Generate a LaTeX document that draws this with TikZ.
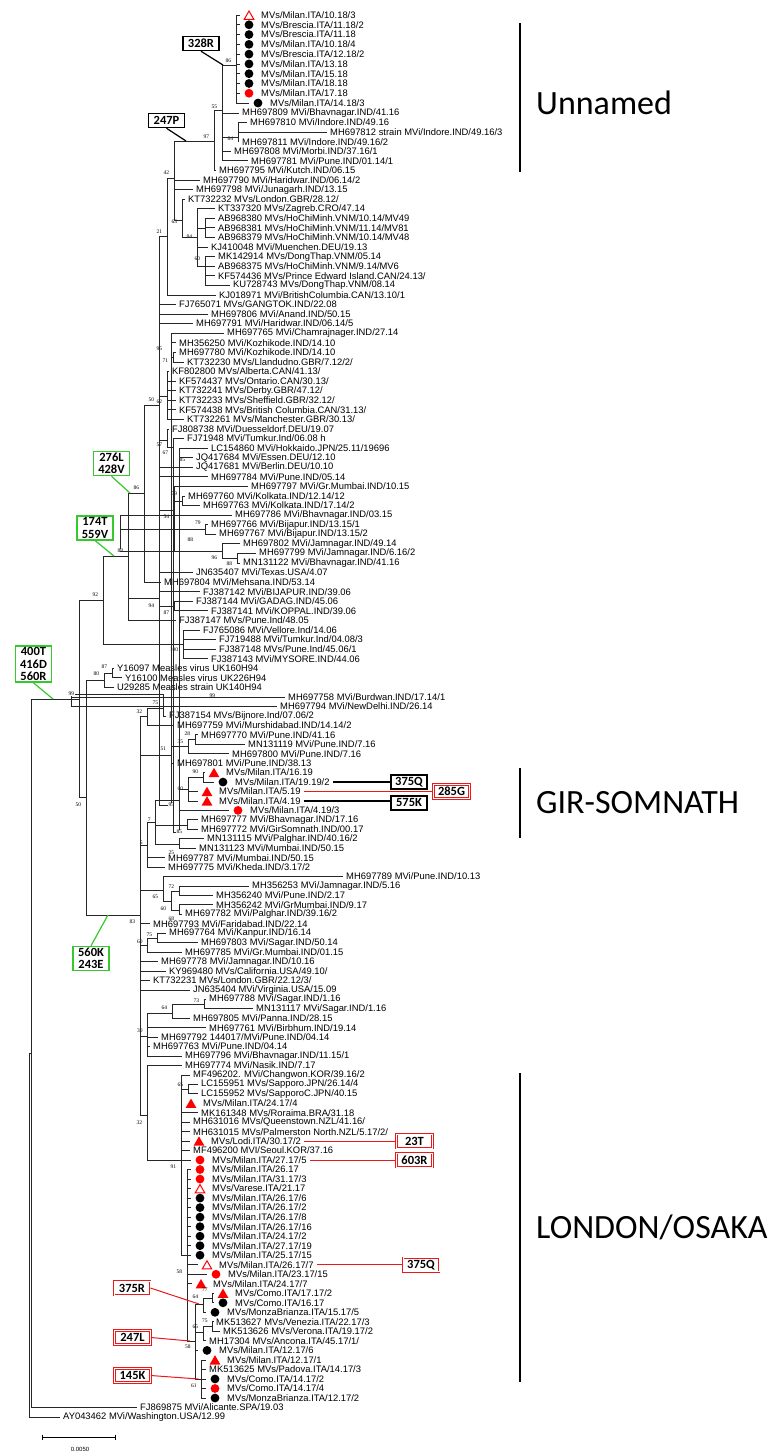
\documentclass[tikz,border=0pt]{standalone}
\usepackage{fontspec}
\setmainfont{Liberation Sans}
\newfontfamily\bsfont{Liberation Serif}
\newfontfamily\boxfont{Carlito}
\usetikzlibrary{shapes.geometric}

\definecolor{mutred}{RGB}{235,25,25}
\definecolor{mutgreen}{RGB}{55,200,45}

\tikzset{
  branch/.style={line width=0.8pt, black!85},
  leaf/.style={anchor=west, inner xsep=3pt, inner ysep=0pt, font=\fontsize{9.4}{10}\selectfont},
  bs/.style={anchor=east, inner sep=0.3pt, font=\bsfont\fontsize{5.5}{5.5}\selectfont},
  dot/.style={circle, fill=black, inner sep=0pt, minimum size=8.8pt},
  reddot/.style={dot, fill=red},
  redtri/.style={regular polygon, regular polygon sides=3, fill=red, inner sep=0pt, minimum size=12.5pt, yshift=-1.5pt},
  opentri/.style={redtri, fill=white, draw=red, line width=1pt, minimum size=11pt},
  mutbox/.style={draw, line width=1.5pt, inner sep=1.5pt, minimum width=36pt, minimum height=14pt, font=\boxfont\bfseries\fontsize{12.5}{12.5}\selectfont},
  redbox/.style={mutbox, draw=mutred, double=white, double distance=0.6pt, line width=0.8pt},
  greenbox/.style={mutbox, draw=mutgreen, line width=1.4pt, align=center},
  tag/.style={line width=1.2pt},
  redtag/.style={line width=1pt, mutred},
  greentag/.style={line width=1.2pt, mutgreen},
  cladebar/.style={line width=1.8pt},
  clade/.style={anchor=base west, inner sep=0pt, font=\boxfont\fontsize{34}{34}\selectfont},
}

% tip of a leaf and its text
\newcommand\leafnode[4]{%
  \coordinate (#1) at (#3,{ry(#2)});
  \node[leaf] (#1t) at (#1) {#4};}
% same, with a symbol before the text
\newcommand\symnode[5]{%
  \coordinate (#1) at (#3,{ry(#2)});
  \node[#4] (#1s) at ([xshift=9pt]#1) {};
  \node[leaf] (#1t) at ([xshift=18pt]#1) {#5};}
% inner node, its bootstrap value and where that value sits
\newcommand\innode[5]{%
  \coordinate (#1) at (#2,#3);
  \node[bs] (#1b) at (#2-4.5,#5) {#4};}
\newcommand\children[2]{\foreach \c in {#2} {\draw[branch] (#1) |- (\c);}}

\begin{document}
\begin{tikzpicture}[x=1pt,y=-1pt,
  declare function={ry(\r)=(\r<=10) ? 15+(\r-1)*9.78 : ((\r<=72) ? 113+(\r-11)*9.574 : ((\r<=121) ? 697+(\r-72)*9.449 : 1160+(\r-121)*9.52));}]
\useasboundingbox[fill=white] (0,0) rectangle (768,1452);

% Milan 2018
\symnode{l1}{1}{240}{opentri}{MVs/Milan.ITA/10.18/3}
\symnode{l2}{2}{240}{dot}{MVs/Brescia.ITA/11.18/2}
\symnode{l3}{3}{240}{dot}{MVs/Brescia.ITA/11.18}
\symnode{l4}{4}{240}{dot}{MVs/Milan.ITA/10.18/4}
\symnode{l5}{5}{240}{dot}{MVs/Brescia.ITA/12.18/2}
\symnode{l6}{6}{240}{dot}{MVs/Milan.ITA/13.18}
\symnode{l7}{7}{240}{dot}{MVs/Milan.ITA/15.18}
\symnode{l8}{8}{240}{dot}{MVs/Milan.ITA/18.18}
\symnode{l9}{9}{240}{reddot}{MVs/Milan.ITA/17.18}
\symnode{l10}{10}{249}{dot}{MVs/Milan.ITA/14.18/3}
\leafnode{l11}{11}{239}{MH697809 MVi/Bhavnagar.IND/41.16}
\leafnode{l12}{12}{247}{MH697810 MVi/Indore.IND/49.16}
\leafnode{l13}{13}{327}{MH697812 strain MVi/Indore.IND/49.16/3}
\leafnode{l14}{14}{239}{MH697811 MVi/Indore.IND/49.16/2}
\leafnode{l15}{15}{231}{MH697808 MVi/Morbi.IND/37.16/1}
\leafnode{l16}{16}{248}{MH697781 MVi/Pune.IND/01.14/1}
\leafnode{l17}{17}{216}{MH697795 MVi/Kutch.IND/06.15}
\leafnode{l18}{18}{200}{MH697790 MVi/Haridwar.IND/06.14/2}
\leafnode{l19}{19}{193}{MH697798 MVi/Junagarh.IND/13.15}
\leafnode{l20}{20}{185}{KT732232 MVs/London.GBR/28.12/}
\leafnode{l21}{21}{215}{KT337320 MVs/Zagreb.CRO/47.14}
\leafnode{l22}{22}{215}{AB968380 MVs/HoChiMinh.VNM/10.14/MV49}
\leafnode{l23}{23}{215}{AB968381 MVs/HoChiMinh.VNM/11.14/MV81}
\leafnode{l24}{24}{215}{AB968379 MVs/HoChiMinh.VNM/10.14/MV48}
\leafnode{l25}{25}{208}{KJ410048 MVi/Muenchen.DEU/19.13}
\leafnode{l26}{26}{215}{MK142914 MVs/DongThap.VNM/05.14}
\leafnode{l27}{27}{215}{AB968375 MVs/HoChiMinh.VNM/9.14/MV6}
\leafnode{l28}{28}{215}{KF574436 MVs/Prince Edward Island.CAN/24.13/}
\leafnode{l29}{29}{230}{KU728743 MVs/DongThap.VNM/08.14}
\leafnode{l30}{30}{216}{KJ018971 MVi/BritishColumbia.CAN/13.10/1}
\leafnode{l31}{31}{176}{FJ765071 MVs/GANGTOK.IND/22.08}
\leafnode{l32}{32}{208}{MH697806 MVi/Anand.IND/50.15}
\leafnode{l33}{33}{193}{MH697791 MVi/Haridwar.IND/06.14/5}
\leafnode{l34}{34}{224}{MH697765 MVi/Chamrajnager.IND/27.14}
\leafnode{l35}{35}{176}{MH356250 MVi/Kozhikode.IND/14.10}
\leafnode{l36}{36}{176}{MH697780 MVi/Kozhikode.IND/14.10}
\leafnode{l37}{37}{184}{KT732230 MVs/Llandudno.GBR/7.12/2/}
\leafnode{l38}{38}{169}{KF802800 MVs/Alberta.CAN/41.13/}
\leafnode{l39}{39}{176}{KF574437 MVs/Ontario.CAN/30.13/}
\leafnode{l40}{40}{176}{KT732241 MVs/Derby.GBR/47.12/}
\leafnode{l41}{41}{176}{KT732233 MVs/Sheffield.GBR/32.12/}
\leafnode{l42}{42}{176}{KF574438 MVs/British Columbia.CAN/31.13/}
\leafnode{l43}{43}{184}{KT732261 MVs/Manchester.GBR/30.13/}
\leafnode{l44}{44}{169}{FJ808738 MVi/Duesseldorf.DEU/19.07}
\leafnode{l45}{45}{184}{FJ71948 MVi/Tumkur.Ind/06.08 h}
\leafnode{l46}{46}{208}{LC154860 MVi/Hokkaido.JPN/25.11/19696}
\leafnode{l47}{47}{193}{JQ417684 MVi/Essen.DEU/12.10}
\leafnode{l48}{48}{193}{JQ417681 MVi/Berlin.DEU/10.10}
\leafnode{l49}{49}{208}{MH697784 MVi/Pune.IND/05.14}
\leafnode{l50}{50}{248}{MH697797 MVi/Gr.Mumbai.IND/10.15}
\leafnode{l51}{51}{185}{MH697760 MVi/Kolkata.IND/12.14/12}
\leafnode{l52}{52}{200}{MH697763 MVi/Kolkata.IND/17.14/2}
\leafnode{l53}{53}{232}{MH697786 MVi/Bhavnagar.IND/03.15}
\leafnode{l54}{54}{208}{MH697766 MVi/Bijapur.IND/13.15/1}
\leafnode{l55}{55}{216}{MH697767 MVi/Bijapur.IND/13.15/2}
\leafnode{l56}{56}{240}{MH697802 MVi/Jamnagar.IND/49.14}
\leafnode{l57}{57}{256}{MH697799 MVi/Jamnagar.IND/6.16/2}
\leafnode{l58}{58}{240}{MN131122 MVi/Bhavnagar.IND/41.16}
\leafnode{l59}{59}{193}{JN635407 MVi/Texas.USA/4.07}
\leafnode{l60}{60}{161}{MH697804 MVi/Mehsana.IND/53.14}
\leafnode{l61}{61}{200}{FJ387142 MVi/BIJAPUR.IND/39.06}
\leafnode{l62}{62}{193}{FJ387144 MVi/GADAG.IND/45.06}
\leafnode{l63}{63}{208}{FJ387141 MVi/KOPPAL.IND/39.06}
\leafnode{l64}{64}{176}{FJ387147 MVs/Pune.Ind/48.05}
\leafnode{l65}{65}{200}{FJ765086 MVi/Vellore.Ind/14.06}
\leafnode{l66}{66}{216}{FJ719488 MVi/Tumkur.Ind/04.08/3}
\leafnode{l67}{67}{216}{FJ387148 MVs/Pune.Ind/45.06/1}
\leafnode{l68}{68}{208}{FJ387143 MVi/MYSORE.IND/44.06}
\leafnode{l69}{69}{114}{Y16097 Measles virus UK160H94}
\leafnode{l70}{70}{122}{Y16100 Measles virus UK226H94}
\leafnode{l71}{71}{114}{U29285 Measles strain UK140H94}
\leafnode{l72}{72}{285}{MH697758 MVi/Burdwan.IND/17.14/1}
\leafnode{l73}{73}{277}{MH697794 MVi/NewDelhi.IND/26.14}
\leafnode{l74}{74}{166}{FJ387154 MVs/Bijnore.Ind/07.06/2}
\leafnode{l75}{75}{174}{MH697759 MVi/Murshidabad.IND/14.14/2}
\leafnode{l76}{76}{198}{MH697770 MVi/Pune.IND/41.16}
\leafnode{l77}{77}{245}{MN131119 MVi/Pune.IND/7.16}
\leafnode{l78}{78}{229}{MH697800 MVi/Pune.IND/7.16}
\leafnode{l79}{79}{174}{MH697801 MVi/Pune.IND/38.13}
% Gir-Somnath
\symnode{l80}{80}{205}{redtri}{MVs/Milan.ITA/16.19}
\symnode{l81}{81}{214}{dot}{MVs/Milan.ITA/19.19/2}
\symnode{l82}{82}{198}{redtri}{MVs/Milan.ITA/5.19}
\symnode{l83}{83}{198}{redtri}{MVs/Milan.ITA/4.19}
\symnode{l84}{84}{229}{reddot}{MVs/Milan.ITA/4.19/3}
\leafnode{l85}{85}{198}{MH697777 MVi/Bhavnagar.IND/17.16}
\leafnode{l86}{86}{198}{MH697772 MVi/GirSomnath.IND/00.17}
\leafnode{l87}{87}{204}{MN131115 MVi/Palghar.IND/40.16/2}
\leafnode{l88}{88}{196}{MN131123 MVi/Mumbai.IND/50.15}
\leafnode{l89}{89}{165}{MH697787 MVi/Mumbai.IND/50.15}
\leafnode{l90}{90}{165}{MH697775 MVi/Kheda.IND/3.17/2}
\leafnode{l91}{91}{343}{MH697789 MVi/Pune.IND/10.13}
\leafnode{l92}{92}{249}{MH356253 MVi/Jamnagar.IND/5.16}
\leafnode{l93}{93}{213}{MH356240 MVi/Pune.IND/2.17}
\leafnode{l94}{94}{213}{MH356242 MVi/GrMumbai.IND/9.17}
\leafnode{l95}{95}{182}{MH697782 MVi/Palghar.IND/39.16/2}
\leafnode{l96}{96}{150}{MH697793 MVi/Faridabad.IND/22.14}
\leafnode{l97}{97}{166}{MH697764 MVi/Kanpur.IND/16.14}
\leafnode{l98}{98}{198}{MH697803 MVi/Sagar.IND/50.14}
\leafnode{l99}{99}{182}{MH697785 MVi/Gr.Mumbai.IND/01.15}
\leafnode{l100}{100}{158}{MH697778 MVi/Jamnagar.IND/10.16}
\leafnode{l101}{101}{166}{KY969480 MVs/California.USA/49.10/}
\leafnode{l102}{102}{150}{KT732231 MVs/London.GBR/22.12/3/}
\leafnode{l103}{103}{190}{JN635404 MVi/Virginia.USA/15.09}
\leafnode{l104}{104}{206}{MH697788 MVi/Sagar.IND/1.16}
\leafnode{l105}{105}{253}{MN131117 MVi/Sagar.IND/1.16}
\leafnode{l106}{106}{190}{MH697805 MVi/Panna.IND/28.15}
\leafnode{l107}{107}{206}{MH697761 MVi/Birbhum.IND/19.14}
\leafnode{l108}{108}{158}{MH697792 144017/MVi/Pune.IND/04.14}
\leafnode{l109}{109}{150}{MH697763 MVi/Pune.IND/04.14}
\leafnode{l110}{110}{182}{MH697796 MVi/Bhavnagar.IND/11.15/1}
\leafnode{l111}{111}{182}{MH697774 MVi/Nasik.IND/7.17}
% London/Osaka
\leafnode{l112}{112}{190}{MF496202. MVi/Changwon.KOR/39.16/2}
\leafnode{l113}{113}{198}{LC155951 MVs/Sapporo.JPN/26.14/4}
\leafnode{l114}{114}{198}{LC155952 MVs/SapporoC.JPN/40.15}
\symnode{l115}{115}{182}{redtri}{MVs/Milan.ITA/24.17/4}
\leafnode{l116}{116}{198}{MK161348 MVs/Roraima.BRA/31.18}
\leafnode{l117}{117}{190}{MH631016 MVs/Queenstown.NZL/41.16/}
\leafnode{l118}{118}{190}{MH631015 MVs/Palmerston North.NZL/5.17/2/}
\symnode{l119}{119}{190}{redtri}{MVs/Lodi.ITA/30.17/2}
\leafnode{l120}{120}{190}{MF496200 MVI/Seoul.KOR/37.16}
\symnode{l121}{121}{191}{reddot}{MVs/Milan.ITA/27.17/5}
\symnode{l122}{122}{191}{reddot}{MVs/Milan.ITA/26.17}
\symnode{l123}{123}{191}{reddot}{MVs/Milan.ITA/31.17/3}
\symnode{l124}{124}{191}{opentri}{MVs/Varese.ITA/21.17}
\symnode{l125}{125}{191}{dot}{MVs/Milan.ITA/26.17/6}
\symnode{l126}{126}{191}{dot}{MVs/Milan.ITA/26.17/2}
\symnode{l127}{127}{191}{dot}{MVs/Milan.ITA/26.17/8}
\symnode{l128}{128}{191}{dot}{MVs/Milan.ITA/26.17/16}
\symnode{l129}{129}{191}{dot}{MVs/Milan.ITA/24.17/2}
\symnode{l130}{130}{191}{dot}{MVs/Milan.ITA/27.17/19}
\symnode{l131}{131}{191}{dot}{MVs/Milan.ITA/25.17/15}
\symnode{l132}{132}{198}{opentri}{MVs/Milan.ITA/26.17/7}
\symnode{l133}{133}{207}{reddot}{MVs/Milan.ITA/23.17/15}
\symnode{l134}{134}{192}{redtri}{MVs/Milan.ITA/24.17/7}
\symnode{l135}{135}{214}{redtri}{MVs/Como.ITA/17.17/2}
\symnode{l136}{136}{214}{dot}{MVs/Como.ITA/16.17}
\symnode{l137}{137}{206}{dot}{MVs/MonzaBrianza.ITA/15.17/5}
\leafnode{l138}{138}{213}{MK513627 MVs/Venezia.ITA/22.17/3}
\leafnode{l139}{139}{220}{MK513626 MVs/Verona.ITA/19.17/2}
\leafnode{l140}{140}{206}{MH17304 MVs/Ancona.ITA/45.17/1/}
\symnode{l141}{141}{198}{dot}{MVs/Milan.ITA/12.17/6}
\symnode{l142}{142}{206}{redtri}{MVs/Milan.ITA/12.17/1}
\leafnode{l143}{143}{206}{MK513625 MVs/Padova.ITA/14.17/3}
\symnode{l144}{144}{206}{dot}{MVs/Como.ITA/14.17/2}
\symnode{l145}{145}{206}{reddot}{MVs/Como.ITA/14.17/4}
\symnode{l146}{146}{206}{dot}{MVs/MonzaBrianza.ITA/12.17/2}
\leafnode{l147}{147}{137}{FJ869875 MVi/Alicante.SPA/19.03}
\leafnode{l148}{148}{60}{AY043462 MVi/Washington.USA/12.99}

% inner nodes
\innode{n86}{236}{65}{86}{61}
\innode{n84}{238}{137}{84}{139}
\innode{n55}{222}{110}{55}{107}
\innode{n97}{214}{141}{97}{137}
\coordinate (n205) at (205,228);
\innode{n60d}{205}{266}{60}{259}
\innode{n84b}{197}{237}{84}{237}
\innode{n63}{182}{220}{63}{222}
\innode{n42}{174}{178}{42}{173}
\innode{n21}{167}{236}{21}{232}
\innode{n71}{173}{357}{71}{361}
\innode{n95b}{167}{343}{95}{349}
\innode{n62}{167}{396}{62}{402}
\innode{n85b}{190}{453}{85}{460}
\innode{n67}{173}{447}{67}{453}
\innode{n57}{167}{440}{57}{445}
\innode{n79a}{182}{501}{79}{494}
\innode{n79b}{205.5}{529.5}{79}{523}
\innode{n88c}{237}{558}{88}{564}
\innode{n96}{222}{551}{96}{558}
\innode{n88b}{198}{532}{88}{540}
\innode{n54}{174}{510}{54}{517}
\innode{nP}{159}{405}{50}{400}
\innode{n86c}{144}{493}{86}{488}
\innode{n87c}{174}{606}{87}{613}
\innode{n94}{159}{598}{94}{606}
\innode{n88}{128}{556}{88}{551}
\innode{n100}{183}{644}{100}{650}
\innode{n92}{103}{600}{92}{595}
\innode{n87b}{112}{673}{87}{667}
\innode{n80}{104}{680}{80}{674}
\innode{n99b}{220}{701.7}{99}{696}
\innode{n75}{163}{708}{75}{703}
\innode{n32a}{147}{716.5}{32}{712}
\innode{n28}{195}{739.5}{28}{734}
\innode{n35}{188}{746.7}{35}{742}
\innode{n51}{171}{755}{51}{749}
\innode{n90}{203}{777.3}{90}{772}
\innode{n60}{188}{789}{60}{789}
\innode{n95}{179}{800}{95}{805}
\innode{n85}{187}{825}{85}{832}
\innode{n25}{179}{844}{25}{853}
\innode{n7}{155.5}{822}{7}{820}
\innode{n5}{147.6}{845}{5}{843}
\innode{n72}{179}{891}{72}{887}
\innode{n68}{179}{910}{68}{919}
\innode{n60b}{171}{901}{60}{909}
\innode{n65}{163}{890}{65}{897}
\innode{n75b}{157}{938}{75}{935}
\innode{n60c}{147.6}{945}{60}{942}
\innode{n73}{204}{1004}{73}{1001}
\innode{n64}{172}{1013}{64}{1008}
\innode{n30}{147.6}{1036}{30}{1031}
\innode{n65c}{188}{1089}{65}{1085}
\innode{n77}{212.6}{1298}{77}{1290}
\innode{n64b}{203}{1304}{64}{1297}
\innode{n75c}{212.6}{1326.5}{75}{1321}
\innode{n65d}{203}{1332}{65}{1327}
\innode{n61}{201.6}{1379}{61}{1386}
\innode{n58b}{195.7}{1341}{58}{1347}
\innode{n58a}{187}{1255}{58}{1272}
\innode{n91}{181}{1160}{91}{1167}
\innode{n32b}{147}{1115}{32}{1123}
\innode{n83}{140}{915}{83}{922}
\innode{n50}{86}{797}{50}{805}
\innode{n99}{79}{699}{99}{694}
\coordinate (nR1) at (31.5,1053);
\coordinate (nRoot) at (29.5,1235);

% branches
\children{n86}{l1,l2,l3,l4,l5,l6,l7,l8,l9,l10}
\children{n84}{l12,l13,l14}
\children{n55}{n86,l11,n84,l15,l16}
\children{n97}{n55,l17}
\children{n205}{l22,l23,l24}
\children{n60d}{l26,l27,l28,l29}
\children{n84b}{l21,n205,l25,n60d}
\children{n63}{l20,n84b}
\children{n42}{n97,l18,l19,n63}
\children{n21}{n42,l30}
\children{n71}{l36,l37}
\children{n95b}{l34,l35,n71}
\children{n62}{l38,l39,l40,l41,l42,l43}
\children{n85b}{l46,l47}
\children{n67}{l45,n85b}
\children{n57}{l44,n67}
\children{n79a}{l51,l52}
\children{n79b}{l54,l55}
\children{n88c}{l57,l58}
\children{n96}{l56,n88c}
\children{n88b}{l53,n79b,n96}
\children{n54}{l50,n79a,n88b}
\children{nP}{n21,l31,l32,l33,n95b,n62,n57,l48,l49,n54,l59}
\children{n86c}{nP,l60}
\children{n87c}{l62,l63}
\children{n94}{l61,n87c}
\children{n88}{n86c,n94,l64}
\children{n100}{l65,l66,l67,l68}
\children{n92}{n88,n100}
\children{n87b}{l69,l70}
\children{n80}{n87b,l71}
\children{n99b}{l72,l73}
\children{n75}{n99b,l74}
\children{n32a}{n75,l75}
\children{n28}{l76,l77}
\children{n35}{n28,l78}
\children{n51}{n35,l79}
\children{n90}{l80,l81}
\children{n60}{n90,l82,l83}
\children{n95}{n60,l84}
\children{n85}{l85,l86}
\children{n25}{l87,l88}
\children{n7}{n95,n85,n25}
\children{n5}{n7,l89,l90}
\children{n72}{l92,l93}
\children{n68}{l94,l95}
\children{n60b}{n72,n68}
\children{n65}{l91,n60b}
\children{n75b}{l97,l98}
\children{n60c}{n75b,l99}
\children{n73}{l104,l105}
\children{n64}{n73,l106}
\children{n30}{n64,l107,l108,l109,l110}
\children{n65c}{l113,l114}
\children{n77}{l135,l136}
\children{n64b}{n77,l137}
\children{n75c}{l138,l139}
\children{n65d}{n75c,l140}
\children{n61}{l142,l143,l144,l145,l146}
\children{n58b}{n64b,n65d,l141,n61}
\children{n58a}{l122,l123,l124,l125,l126,l127,l128,l129,l130,l131,l132,l133,l134,n58b}
\children{n91}{l112,n65c,l115,l116,l117,l118,l119,l120,l121,n58a}
\children{n32b}{l111,n91}
\children{n83}{n32a,n51,n5,n65,l96,n60c,l100,l101,l102,l103,n30,n32b}
\children{n50}{n80,n83}
\children{n99}{n92,n50}
\children{nR1}{n99,l147}
\children{nRoot}{nR1,l148}

% mutations on branches
\node[mutbox] (m328R) at (201,43.5) {328R};
\coordinate (b328R) at (223,65);
\draw[tag] (m328R.south) -- (b328R);
\node[mutbox] (m247P) at (166.5,120.5) {247P};
\coordinate (b247P) at (186,141);
\draw[tag] (m247P.south) -- (b247P);
\node[greenbox] (m276L) at (111.5,463.5) {276L\\428V};
\coordinate (b276L) at (130,493);
\draw[greentag] (m276L.south) -- (b276L);
\node[greenbox] (m174T) at (95,528) {174T\\559V};
\coordinate (b174T) at (114,556);
\draw[greentag] (m174T.south) -- (b174T);
\node[greenbox] (m400T) at (33.5,664) {400T\\416D\\560R};
\coordinate (b400T) at (53,699);
\draw[greentag] (m400T.south) -- (b400T);
\node[greenbox] (m560K) at (91,958.5) {560K\\243E};
\coordinate (b560K) at (108,915);
\draw[greentag] (m560K.north) -- (b560K);
\node[mutbox] (m375Qa) at (409,{ry(81)}) {375Q};
\draw[tag] (l81t.east) -- (m375Qa.west);
\node[redbox] (m285G) at (451.5,{ry(82)}) {285G};
\draw[redtag] (l82t.east) -- (m285G.west);
\node[mutbox] (m575K) at (409,{ry(83)+2}) {575K};
\draw[tag] (l83t.east) -- (m575K.west |- l83t.east);
\node[redbox] (m23T) at (414.5,{ry(119)}) {23T};
\draw[redtag] (l119t.east) -- (m23T.west);
\node[redbox] (m603R) at (414.5,{ry(121)}) {603R};
\draw[redtag] (l121t.east) -- (m603R.west);
\node[redbox] (m375Qb) at (421,{ry(132)}) {375Q};
\draw[redtag] (l132t.east) -- (m375Qb.west);
\node[redbox] (m375R) at (132,1288) {375R};
\coordinate (b375R) at (199,1304);
\draw[redtag] (m375R.east) -- (b375R);
\node[redbox] (m247L) at (132.5,1337.5) {247L};
\coordinate (b247L) at (190,1341);
\draw[redtag] (m247L.east) -- (b247L);
\node[redbox] (m145K) at (132.5,1375.5) {145K};
\coordinate (b145K) at (198.5,1379);
\draw[redtag] (m145K.east) -- (b145K);

% clades
\coordinate (u1) at (520,23);
\coordinate (u2) at (520,172);
\draw[cladebar] (u1) -- (u2);
\node[clade] (cU) at (536,114) {Unnamed};
\coordinate (g1) at (520,768);
\coordinate (g2) at (520,838);
\draw[cladebar] (g1) -- (g2);
\node[clade] (cG) at (536,813) {GIR-SOMNATH};
\coordinate (o1) at (520,1073);
\coordinate (o2) at (520,1382);
\draw[cladebar] (o1) -- (o2);
\node[clade] (cO) at (536,1238) {LONDON/OSAKA};

% scale
\coordinate (s1) at (42,1437);
\coordinate (s2) at (115,1437);
\draw[line width=0.6pt] (s1) -- (s2);
\draw[line width=0.6pt] ([yshift=2.5pt]s1) -- ([yshift=-2.5pt]s1);
\draw[line width=0.6pt] ([yshift=2.5pt]s2) -- ([yshift=-2.5pt]s2);
\node[font=\fontsize{6}{6}\selectfont, inner sep=0pt] (sl) at (80,1449) {0.0050};
\end{tikzpicture}
\end{document}
